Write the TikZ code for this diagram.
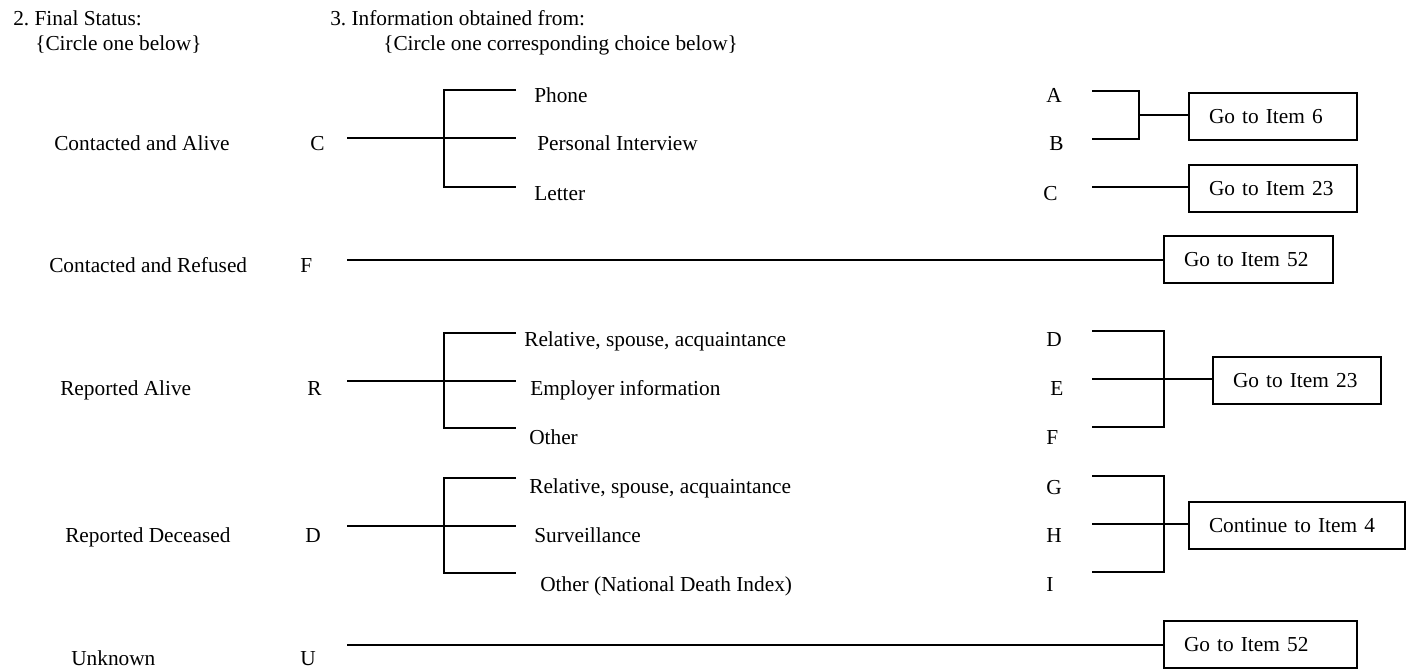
\documentclass[tikz,border=0pt]{standalone}
\usepackage{fontspec}
\setmainfont{Liberation Serif}
\usetikzlibrary{positioning}
\frenchspacing
\tikzset{
  txt/.style={anchor=base west, inner sep=0pt},
  goto/.style={draw, line width=1.5pt, anchor=north west, align=left,
    inner xsep=15pt, inner ysep=0pt, minimum height=35.25pt},
  conn/.style={line width=1.5pt}
}
\begin{document}
\begin{tikzpicture}[x=0.75pt,y=-0.75pt,
  every node/.style={font=\fontsize{16}{19}\selectfont}]
  \useasboundingbox (0,0) rectangle (1414,669);
  \node (hstatus) [txt] at (13,25) {2. Final Status:};
  \node (hstatusb) [txt] at (35,50) {\{Circle one below\}};
  \node (hinfo) [txt] at (330,25) {3. Information obtained from:};
  \node (hinfob) [txt] at (383,50) {\{Circle one corresponding choice below\}};
  % final status
  \node (alive) [txt] at (54,150) {Contacted and Alive};
  \node (refused) [txt] at (49,272) {Contacted and Refused};
  \node (ralive) [txt] at (60,395) {Reported Alive};
  \node (deceased) [txt] at (65,542) {Reported Deceased};
  \node (unknown) [txt] at (71,665) {Unknown};
  \node (codeC) [txt] at (310,150) {C};
  \node (codeF) [txt] at (300,272) {F};
  \node (codeR) [txt] at (307,395) {R};
  \node (codeD) [txt] at (305,542) {D};
  \node (codeU) [txt] at (300,665) {U};
  % information obtained from
  \node (phone) [txt] at (534,102) {Phone};
  \node (interview) [txt] at (537,150) {Personal Interview};
  \node (letter) [txt] at (534,200) {Letter};
  \node (relA) [txt] at (524,346) {Relative, spouse, acquaintance};
  \node (employer) [txt] at (530,395) {Employer information};
  \node (otherA) [txt] at (529,444) {Other};
  \node (relD) [txt] at (529,493) {Relative, spouse, acquaintance};
  \node (surveil) [txt] at (534,542) {Surveillance};
  \node (otherD) [txt] at (540,591) {Other (National Death Index)};
  \node (optA) [txt] at (1046,102) {A};
  \node (optB) [txt] at (1049,150) {B};
  \node (optC) [txt] at (1043,200) {C};
  \node (optD) [txt] at (1046,346) {D};
  \node (optE) [txt] at (1050,395) {E};
  \node (optF) [txt] at (1046,444) {F};
  \node (optG) [txt] at (1046,494) {G};
  \node (optH) [txt] at (1046,542) {H};
  \node (optI) [txt] at (1046,591) {I};
  % targets
  \node (go6) [goto, text width=96pt] at (1188,92) {Go to Item 6};
  \node (go23a) [goto, text width=96pt] at (1188,164) {Go to Item 23};
  \node (go52a) [goto, text width=96.75pt] at (1163,235) {Go to Item 52};
  \node (go23b) [goto, text width=96pt] at (1212,356) {Go to Item 23};
  \node (go4) [goto, text width=132pt] at (1188,501) {Continue to Item 4};
  \node (go52b) [goto, text width=114.75pt] at (1163,620) {Go to Item 52};
  % junctions
  \coordinate (c1) at (347,138); \coordinate (j1) at (444,187);
  \coordinate (e1a) at (516,90); \coordinate (e1b) at (516,138); \coordinate (e1c) at (516,187);
  \coordinate (c2) at (347,260);
  \coordinate (c3) at (347,381); \coordinate (j3) at (444,428);
  \coordinate (e3a) at (516,333); \coordinate (e3b) at (516,381); \coordinate (e3c) at (516,428);
  \coordinate (c4) at (347,526); \coordinate (j4) at (444,573);
  \coordinate (e4a) at (516,478); \coordinate (e4b) at (516,526); \coordinate (e4c) at (516,573);
  \coordinate (c5) at (347,645);
  \coordinate (r1a) at (1092,91); \coordinate (r1b) at (1092,139); \coordinate (r1c) at (1092,187);
  \coordinate (k1) at (1139,115);
  \coordinate (r3a) at (1092,331); \coordinate (r3b) at (1092,379); \coordinate (r3c) at (1092,427);
  \coordinate (k3) at (1164,379);
  \coordinate (r4a) at (1092,476); \coordinate (r4b) at (1092,524); \coordinate (r4c) at (1092,572);
  \coordinate (k4) at (1164,524);
\draw[conn] (c1) -- (e1b);
\draw[conn] (e1a) -| (j1) -- (e1c);
\draw[conn] (c2) -- (c2 -| go52a.west);
\draw[conn] (c3) -- (e3b);
\draw[conn] (e3a) -| (j3) -- (e3c);
\draw[conn] (c4) -- (e4b);
\draw[conn] (e4a) -| (j4) -- (e4c);
\draw[conn] (c5) -- (c5 -| go52b.west);
\draw[conn] (r1a) -| (k1) |- (r1b);
\draw[conn] (k1) -- (k1 -| go6.west);
\draw[conn] (r1c) -- (r1c -| go23a.west);
\draw[conn] (r3a) -| (k3) |- (r3c);
\draw[conn] (r3b) -- (r3b -| go23b.west);
\draw[conn] (r4a) -| (k4) |- (r4c);
\draw[conn] (r4b) -- (r4b -| go4.west);
\end{tikzpicture}
\end{document}
